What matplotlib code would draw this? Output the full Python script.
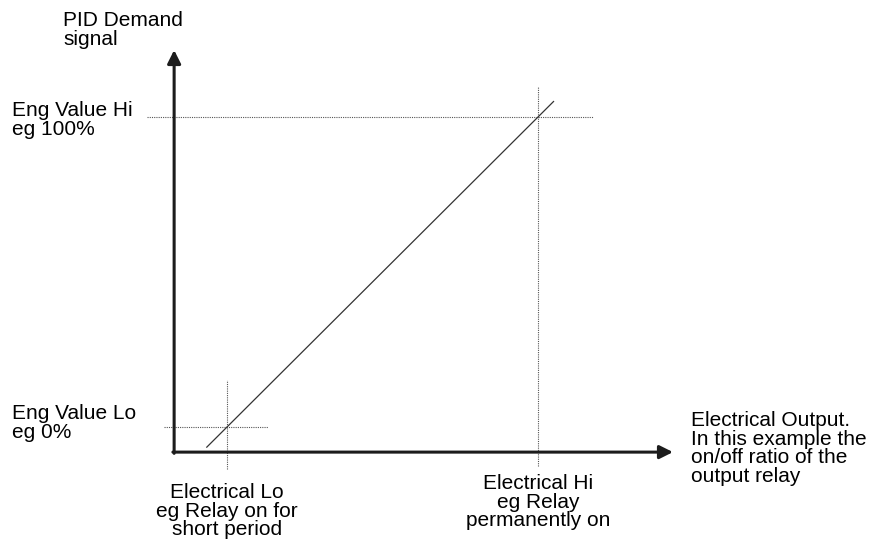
import matplotlib
matplotlib.use("Agg")
import matplotlib.pyplot as plt

plt.rcParams['font.family'] = ['Liberation Sans', 'DejaVu Sans']

# Scaling points (percent of range)
elec_levels = [0, 100]          # Electrical Lo / Electrical Hi
eng_levels = [0, 100]           # Eng Value Lo / Eng Value Hi

# Linear demand -> output characteristic
line_x = [-6.5, 105.0]
line_y = [-6.5, 105.0]

# Extents of the guide lines
hi_guide_x = [-25.7, 117.7]
lo_guide_x = [-20.3, 13.2]
lo_vert_y = [-13.5, 15.2]
hi_vert_y = [-12.6, 109.7]

# Axis frame
origin = (-17.0, -8.1)
y_arrow_tip = 121.6
x_arrow_tip = 143.4

y_label = "PID Demand\nsignal"
hi_label = "Eng Value Hi\neg 100%"
lo_label = "Eng Value Lo\neg 0%"
x_label = "Electrical Output.\nIn this example the\non/off ratio of the\noutput relay"
elec_lo_label = "Electrical Lo\neg Relay on for\nshort period"
elec_hi_label = "Electrical Hi\neg Relay\npermanently on"

fig = plt.figure(figsize=(8.8, 5.44), dpi=100)
ax = fig.add_axes([0, 0, 1, 1])
ax.set_xlim(-227 / 3.11, (880 - 227) / 3.11)
ax.set_ylim((427 - 544) / 3.1, 427 / 3.1)
ax.axis('off')

dot = dict(color='#555555', lw=0.8, linestyle=(0, (1, 1)))
ax.plot(hi_guide_x, [eng_levels[1]] * 2, **dot)
ax.plot(lo_guide_x, [eng_levels[0]] * 2, **dot)
ax.plot([elec_levels[0]] * 2, lo_vert_y, **dot)
ax.plot([elec_levels[1]] * 2, hi_vert_y, **dot)

ax.plot(line_x, line_y, color='#333333', lw=0.9)

arrow = dict(arrowstyle='-|>', lw=2.2, color='#1c1c1c', mutation_scale=20,
             shrinkA=0, shrinkB=0)
ax.annotate('', xy=(origin[0], y_arrow_tip), xytext=(origin[0], origin[1] - 0.4),
            arrowprops=arrow)
ax.annotate('', xy=(x_arrow_tip, origin[1]), xytext=(origin[0] - 0.4, origin[1]),
            arrowprops=arrow)

fs = 15
ls = 0.97
px = lambda p: (p - 227) / 3.11
py = lambda p: (427 - p) / 3.1

ax.text(px(63), py(11), y_label, fontsize=fs, ha='left', va='top', linespacing=ls)
ax.text(px(12), py(101), hi_label, fontsize=fs, ha='left', va='top', linespacing=ls)
ax.text(px(12), py(404), lo_label, fontsize=fs, ha='left', va='top', linespacing=ls)
ax.text(px(691), py(411), x_label, fontsize=fs, ha='left', va='top', linespacing=ls)
ax.text(elec_levels[0], py(483), elec_lo_label, fontsize=fs, ha='center', va='top',
        linespacing=ls)
ax.text(elec_levels[1], py(474), elec_hi_label, fontsize=fs, ha='center', va='top',
        linespacing=ls)

fig.savefig("out.png", dpi=100)
